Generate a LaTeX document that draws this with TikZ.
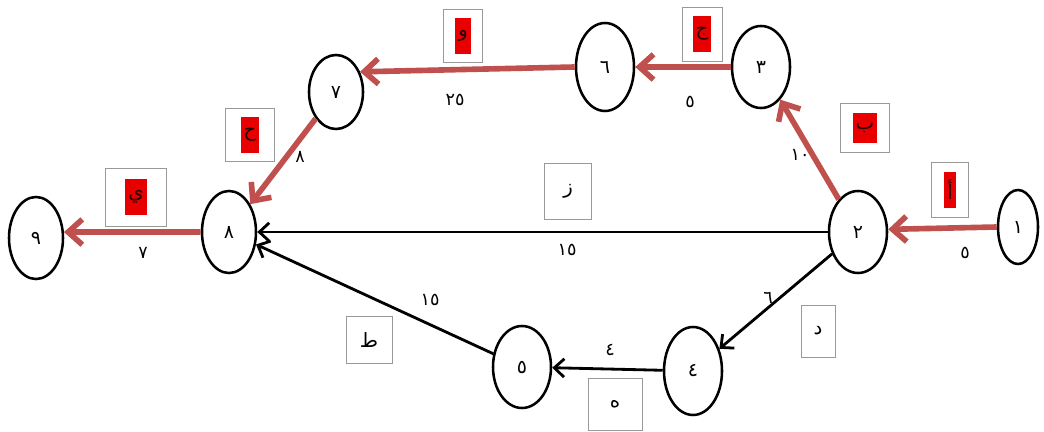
\documentclass[tikz,border=0pt]{standalone}
\usepackage{fontspec}
\usetikzlibrary{shapes.geometric, arrows.meta}
\newfontfamily\arabicfont[Script=Arabic]{DejaVu Sans}
\TeXXeTstate=1
\definecolor{critred}{RGB}{192,80,77}
\definecolor{markred}{RGB}{232,0,0}

\begin{document}
\begin{tikzpicture}[x=0.025cm, y=-0.025cm,
    event/.style={ellipse, draw=black, line width=1.8pt, inner sep=0pt,
        minimum width=1.45cm, minimum height=2.05cm,
        font=\arabicfont\fontsize{13.5}{15}\selectfont},
    crit/.style={draw=critred, line width=4pt, -{Straight Barb[length=10pt, width=18pt]}},
    act/.style={draw=black, line width=2pt, -{Straight Barb[length=7pt, width=13pt]}},
    actbox/.style={draw=gray!80, fill=white, line width=0.6pt, inner sep=0pt,
        font=\arabicfont\fontsize{14}{16}\selectfont},
    critmark/.style={fill=markred, inner xsep=2pt, inner ysep=0pt, minimum height=0.9cm,
        text=black!85!red, font=\arabicfont\fontsize{14}{16}\selectfont},
    dur/.style={font=\arabicfont\fontsize{12.5}{14}\selectfont}]

    \useasboundingbox (0,0) rectangle (1044,432);

    % --- Evenements (noeuds du reseau) ---
    \node[event, minimum width=1.0cm, minimum height=1.85cm] (n1) at (1018,227) {١};
    \node[event] (n2) at (858,232) {٢};
    \node[event] (n3) at (761,67)  {٣};
    \node[event, minimum height=2.2cm] (n6) at (605,67)  {٦};
    \node[event, minimum width=1.35cm, minimum height=1.85cm] (n7) at (336,92) {٧};
    \node[event, minimum width=1.35cm] (n8) at (229,232) {٨};
    \node[event, minimum width=1.35cm] (n9) at (36,238)  {٩};
    \node[event, minimum height=2.2cm] (n4) at (693,371) {٤};
    \node[event] (n5) at (522,367) {٥};

    % ==============================================================
    % 1. CHEMIN CRITIQUE (rouge)
    % ==============================================================
    \draw[crit] (n1.west) -- (n2.5);
    \draw[crit] (n2) -- (n3);
    \draw[crit] (n3) -- (n6);
    \draw[crit] (n6.west) -- (n7.40);
    \draw[crit] (n7) -- (n8);
    \draw[crit] (n8.west) -- (n9.12);

    % ==============================================================
    % 2. AUTRES ACTIVITES (noir)
    % ==============================================================
    \draw[act] (n2.west) -- (n8.east);
    \draw[act] (n2) -- (n4);
    \draw[act] (n4) -- (n5);
    \draw[act] (n5) -- (n8);

    % ==============================================================
    % 3. ETIQUETTES DES ACTIVITES
    % ==============================================================
    % Activites critiques : lettre surlignee en rouge
    \node[actbox, minimum width=0.93cm, minimum height=1.38cm] (bA) at (950,190) {};
    \node[critmark] (mA) at (bA) {\beginR أ\endR};
    \node[actbox, minimum width=1.23cm, minimum height=1.23cm] (bB) at (865,128) {};
    \node[critmark, minimum height=0.75cm] (mB) at (bB) {\beginR ب\endR};
    \node[actbox, minimum width=1.0cm, minimum height=1.35cm] (bC) at (702,34) {};
    \node[critmark] (mC) at (bC) {\beginR ج\endR};
    \node[actbox, minimum width=0.98cm, minimum height=1.33cm] (bF) at (463,36) {};
    \node[critmark] (mF) at (bF) {\beginR و\endR};
    \node[actbox, minimum width=1.23cm, minimum height=1.33cm] (bH) at (250,135) {};
    \node[critmark] (mH) at (bH) {\beginR ح\endR};
    \node[actbox, minimum width=1.53cm, minimum height=1.45cm] (bJ) at (136,197) {};
    \node[critmark] (mJ) at (bJ) {\beginR ي\endR};

    % Autres activites
    \node[actbox, minimum width=1.18cm, minimum height=1.4cm] (bG) at (568,191) {\beginR ز\endR};
    \node[actbox, minimum width=0.85cm, minimum height=1.3cm] (bD) at (818,331) {\beginR د\endR};
    \node[actbox, minimum width=1.35cm, minimum height=1.3cm] (bE) at (615,404) {\beginR ه\endR};
    \node[actbox, minimum width=1.15cm, minimum height=1.18cm] (bI) at (369,340) {\beginR ط\endR};

    % ==============================================================
    % 4. DUREES
    % ==============================================================
    \node[dur] (d12) at (965,253) {٥};
    \node[dur] (d23) at (800,155) {١٠};
    \node[dur] (d36) at (690,102) {٥};
    \node[dur] (d67) at (455,100) {٢٥};
    \node[dur] (d78) at (300,157) {٨};
    \node[dur] (d89) at (143,253) {٧};
    \node[dur] (d28) at (567,250) {١٥};
    \node[dur] (d24) at (768,298) {٦};
    \node[dur] (d45) at (610,350) {٤};
    \node[dur] (d58) at (430,300) {١٥};
\end{tikzpicture}
\end{document}
